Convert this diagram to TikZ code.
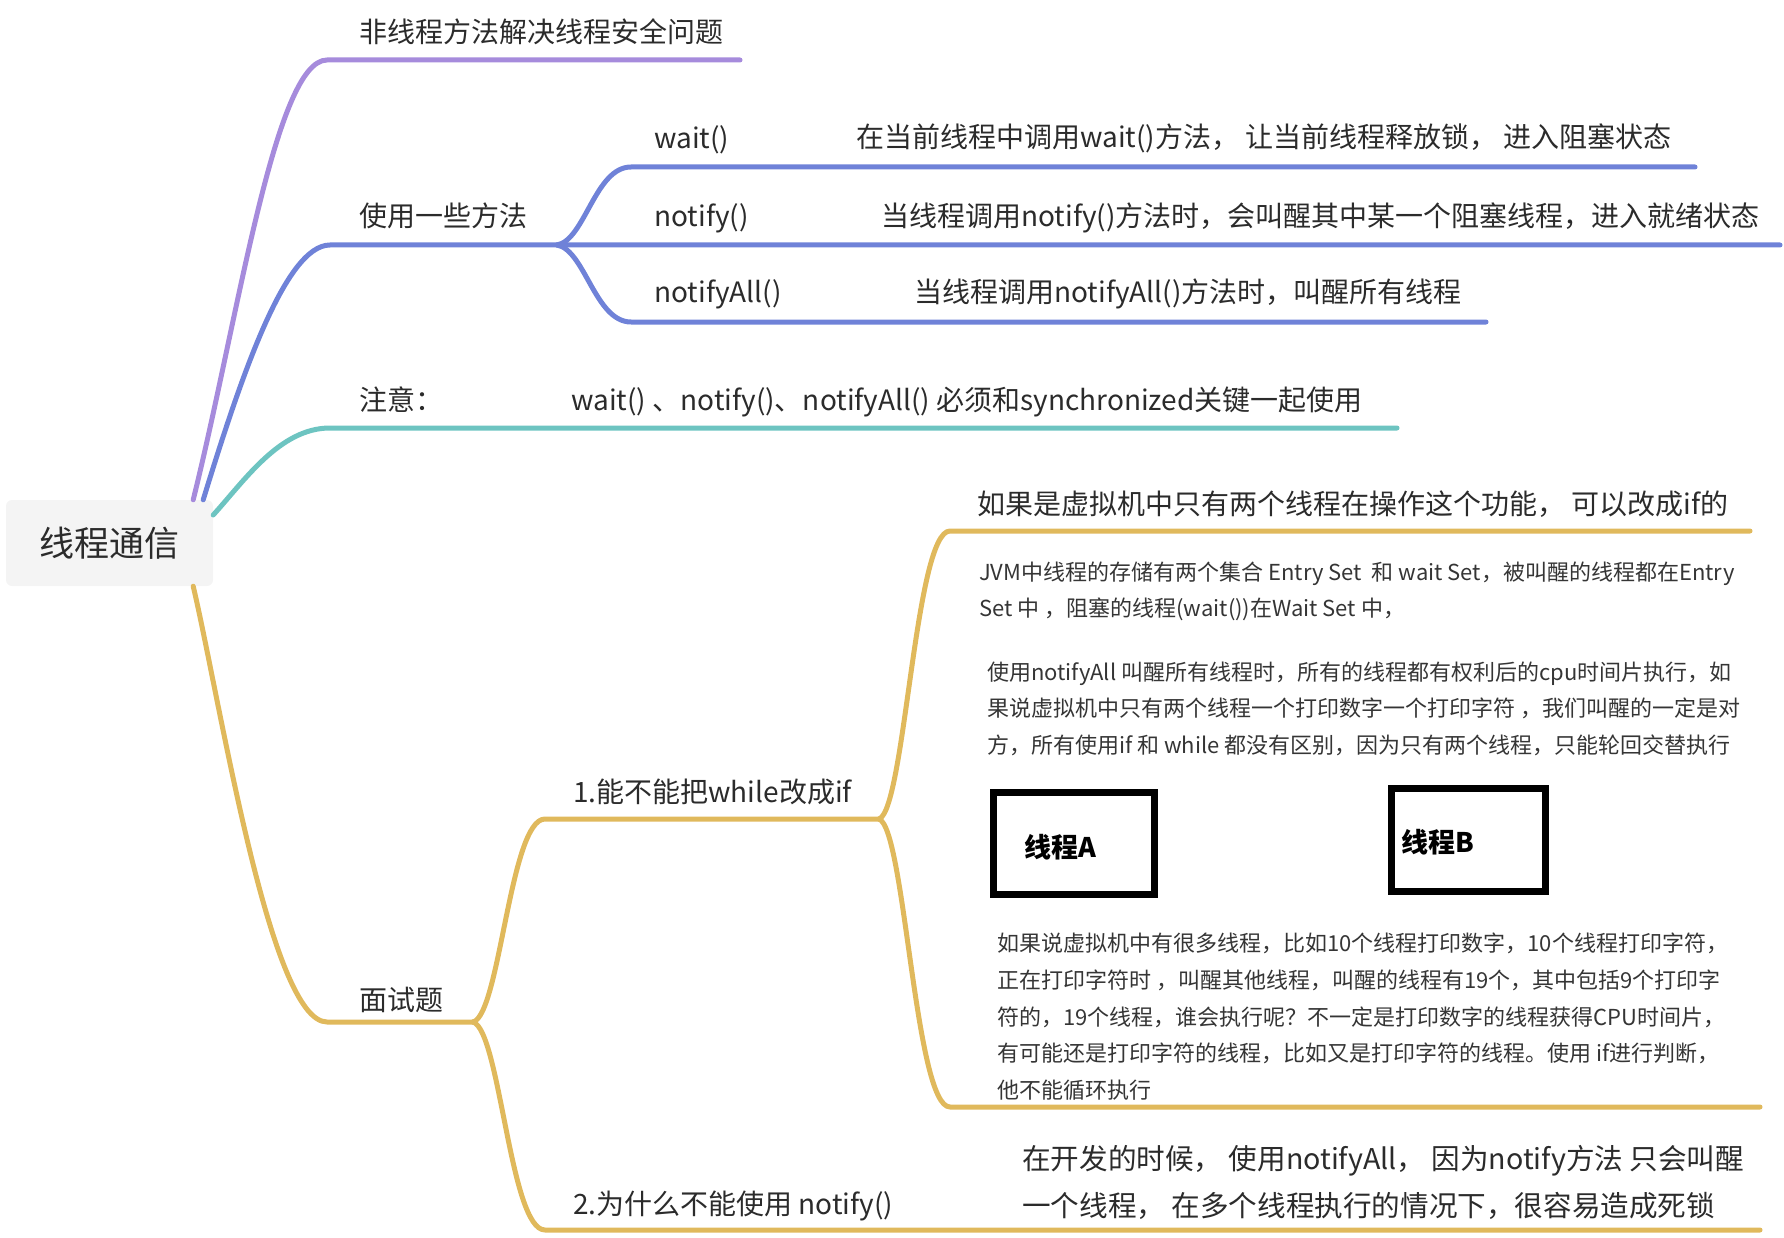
\documentclass[tikz,border=0pt]{standalone}
\usepackage{fontspec}
\setmainfont{Noto Sans CJK SC}
\definecolor{cpurple}{HTML}{A68BDC}
\definecolor{cblue}{HTML}{6F82D8}
\definecolor{cteal}{HTML}{6DC4C1}
\definecolor{cgold}{HTML}{E0B95C}
\definecolor{rootfill}{HTML}{F4F4F4}
\definecolor{txt}{HTML}{2B2B2B}
\definecolor{txtb}{HTML}{353535}
\tikzset{
  branch/.style={line width=5pt, line cap=round, line join=round},
  lbl/.style={anchor=west, inner sep=0pt, text height=24pt, text depth=4pt, text=txt, font=\fontsize{28}{34}\selectfont},
  desc/.style={lbl, font=\fontsize{28}{34}\selectfont},
  descb/.style={lbl, text height=24.5pt, text depth=4.3pt, font=\fontsize{28.6}{36}\selectfont},
  smalltxt/.style={lbl, text height=19pt, text depth=3pt, text=txtb, font=\fontsize{22}{26}\selectfont},
  tbox/.style={draw=black, line width=7pt, inner sep=0pt},
  tlbl/.style={lbl, text height=23pt, text depth=4pt, text=black, font=\fontsize{27}{32}\selectfont\bfseries},
}
\begin{document}
\begin{tikzpicture}[x=1pt,y=-1pt]
\useasboundingbox (0,0) rectangle (1784,1238);
% root
\node[fill=rootfill, rounded corners=6pt, minimum width=207pt, minimum height=86pt, inner sep=0pt,
      text=txt, font=\fontsize{35}{40}\selectfont] (root) at (109.5,543) {线程通信};
% coordinates
\coordinate (p1) at (327,60);   \coordinate (p1e) at (740,60);
\coordinate (b1) at (330,245);  \coordinate (bj) at (557,245);
\coordinate (bw) at (631,167);  \coordinate (bwe) at (1695,167);
\coordinate (bne) at (1780,245);
\coordinate (bna) at (631,322); \coordinate (bnae) at (1486,322);
\coordinate (t1) at (330,428);  \coordinate (t1e) at (1397,428);
\coordinate (g1) at (327,1022); \coordinate (gj) at (473,1022);
\coordinate (g2) at (545,819);  \coordinate (gj2) at (879,819);
\coordinate (g3) at (950,531);  \coordinate (g3e) at (1750,531);
\coordinate (g4) at (950,1107); \coordinate (g4e) at (1760,1107);
\coordinate (g5) at (545,1230); \coordinate (g5e) at (1760,1230);
% branches
\draw[branch,cpurple] ([xshift=-20pt]root.north east) .. controls (238,320) and (275,60) .. (p1) -- (p1e);
\draw[branch,cblue] ([xshift=-10pt]root.north east) .. controls (240,380) and (285,245) .. (b1) -- (bj) -- (bne);
\draw[branch,cblue] (bj) .. controls (585,240) and (595,167) .. (bw) -- (bwe);
\draw[branch,cblue] (bj) .. controls (585,250) and (595,322) .. (bna) -- (bnae);
\draw[branch,cteal] ([yshift=28pt]root.east) .. controls (245,480) and (280,428) .. (t1) -- (t1e);
\draw[branch,cgold] ([xshift=-20pt]root.south east) .. controls (220,700) and (270,1022) .. (g1) -- (gj);
\draw[branch,cgold] (gj) .. controls (500,1015) and (510,819) .. (g2) -- (gj2);
\draw[branch,cgold] (gj) .. controls (500,1030) and (510,1230) .. (g5) -- (g5e);
\draw[branch,cgold] (gj2) .. controls (905,810) and (915,531) .. (g3) -- (g3e);
\draw[branch,cgold] (gj2) .. controls (905,828) and (915,1107) .. (g4) -- (g4e);
% labels
\node[lbl] (n1) at (359,33) {非线程方法解决线程安全问题};
\node[lbl] (n2) at (359,217) {使用一些方法};
\node[lbl] (n21) at (654,139) {wait()};
\node[desc] (d21) at (856,138) {在当前线程中调用wait()方法， 让当前线程释放锁， 进入阻塞状态};
\node[lbl] (n22) at (654,217) {notify()};
\node[desc] (d22) at (881,217) {当线程调用notify()方法时，会叫醒其中某一个阻塞线程，进入就绪状态};
\node[lbl] (n23) at (654,293) {notifyAll()};
\node[desc] (d23) at (914,293) {当线程调用notifyAll()方法时，叫醒所有线程};
\node[lbl] (n3) at (359,400) {注意：};
\node[desc] (d3) at (571,400) {wait() 、notify()、notifyAll() 必须和synchronized关键一起使用};
\node[lbl] (n4) at (359,1000) {面试题};
\node[lbl] (n41) at (573,792) {1.能不能把while改成if};
\node[desc] (d411) at (977,504) {如果是虚拟机中只有两个线程在操作这个功能， 可以改成if的};
\node[lbl] (n42) at (573,1204) {2.为什么不能使用 notify()};
\node[descb] (d42a) at (1022,1159) {在开发的时候， 使用notifyAll， 因为notify方法 只会叫醒};
\node[descb] (d42b) at (1022,1206) {一个线程， 在多个线程执行的情况下，很容易造成死锁};
% embedded block 1
\node[smalltxt] (s11) at (979,572) {JVM中线程的存储有两个集合 Entry Set\ \ 和 wait Set，被叫醒的线程都在Entry};
\node[smalltxt] (s12) at (979,608) {Set 中 ，阻塞的线程(wait())在Wait Set 中，};
% block 2
\node[smalltxt] (s21) at (987,672) {使用notifyAll 叫醒所有线程时，所有的线程都有权利后的cpu时间片执行，如};
\node[smalltxt] (s22) at (987,708) {果说虚拟机中只有两个线程一个打印数字一个打印字符 ，我们叫醒的一定是对};
\node[smalltxt] (s23) at (987,745) {方，所有使用if 和 while 都没有区别，因为只有两个线程，只能轮回交替执行};
% boxes
\node[tbox, minimum width=161pt, minimum height=102pt] (ba) at (1074,843.5) {};
\node[tbox, minimum width=154pt, minimum height=103pt] (bb) at (1468.5,840) {};
\node[tlbl] (la) at (1024,848) {线程A};
\node[tlbl] (lb) at (1401,843) {线程B};
% block 3
\node[smalltxt] (s31) at (997,943) {如果说虚拟机中有很多线程，比如10个线程打印数字，10个线程打印字符，};
\node[smalltxt] (s32) at (997,980) {正在打印字符时 ，叫醒其他线程，叫醒的线程有19个，其中包括9个打印字};
\node[smalltxt] (s33) at (997,1017) {符的，19个线程，谁会执行呢？不一定是打印数字的线程获得CPU时间片，};
\node[smalltxt] (s34) at (997,1053) {有可能还是打印字符的线程，比如又是打印字符的线程。使用 if进行判断，};
\node[smalltxt] (s35) at (997,1090) {他不能循环执行};
\end{tikzpicture}
\end{document}
